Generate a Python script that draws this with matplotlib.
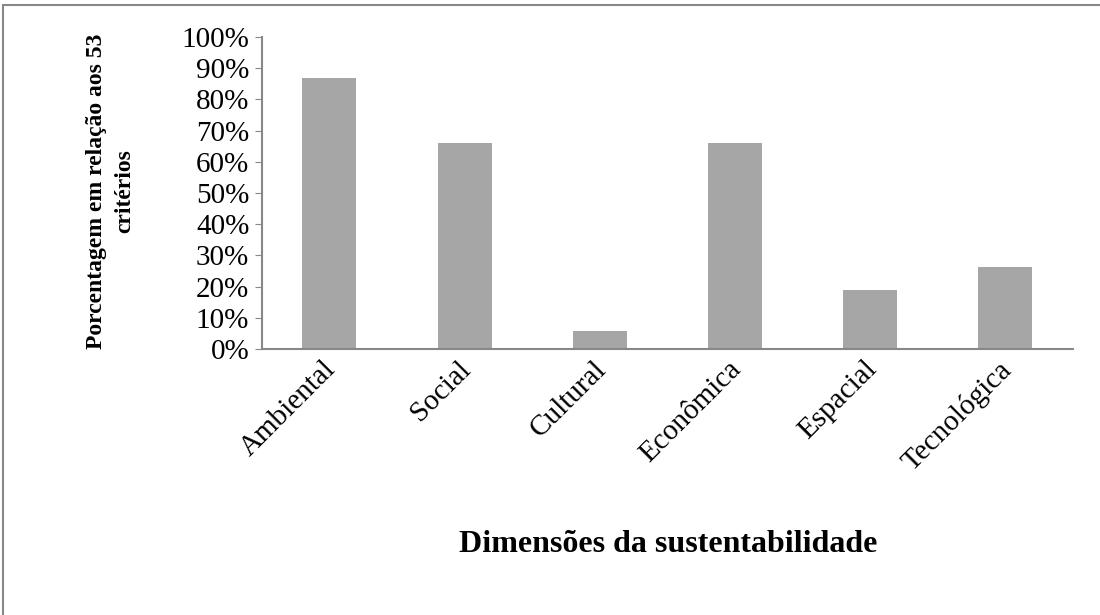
import matplotlib.pyplot as plt
from matplotlib.patches import Rectangle
from matplotlib.ticker import PercentFormatter
from matplotlib.transforms import ScaledTranslation

dimensoes = ["Ambiental", "Social", "Cultural", "Econômica", "Espacial", "Tecnológica"]
porcentagens = [86.8, 66.0, 5.7, 66.0, 18.9, 26.4]
y_ticks = [0, 10, 20, 30, 40, 50, 60, 70, 80, 90, 100]

plt.rcParams["font.family"] = ["Liberation Serif", "DejaVu Serif"]

fig = plt.figure(figsize=(11, 6.15), dpi=100)
ax = fig.add_axes([0.238, 0.4325, 0.7375, 0.5075])

ax.bar(range(len(dimensoes)), porcentagens, width=0.4, color="#a6a6a6")

ax.set_xlim(-0.5, len(dimensoes) - 0.5)
ax.set_ylim(0, 100)
ax.set_yticks(y_ticks)
ax.yaxis.set_major_formatter(PercentFormatter(decimals=0))
ax.tick_params(axis="y", labelsize=21, length=5, color="#888888", pad=4)
ax.tick_params(axis="x", length=0, labelsize=21, pad=5)
ax.set_xticks(range(len(dimensoes)))
ax.set_xticklabels(dimensoes, rotation=45, ha="right", rotation_mode="anchor")
shift = ScaledTranslation(-7 / 100, 0, fig.dpi_scale_trans)
for lbl in ax.get_xticklabels():
    lbl.set_transform(lbl.get_transform() + shift)

for side in ["top", "right"]:
    ax.spines[side].set_visible(False)
for side in ["left", "bottom"]:
    ax.spines[side].set_color("#888888")
    ax.spines[side].set_linewidth(1.5)

fig.text(111 / 1100, 1 - 191 / 615, "Porcentagem em relação aos 53\ncritérios",
         fontsize=17, fontweight="bold", rotation=90, ha="center", va="center",
         multialignment="center", linespacing=1.45)
fig.text(0.607, 1 - 545 / 615, "Dimensões da sustentabilidade", fontsize=23,
         fontweight="bold", ha="center", va="center")

# moldura do gráfico
fig.patches.append(Rectangle((3 / 1100, -0.1), 1.1, 1 - 5 / 615 + 0.1,
                             transform=fig.transFigure, fill=False,
                             edgecolor="#888888", linewidth=1.5))

fig.savefig("out.png", dpi=100)
